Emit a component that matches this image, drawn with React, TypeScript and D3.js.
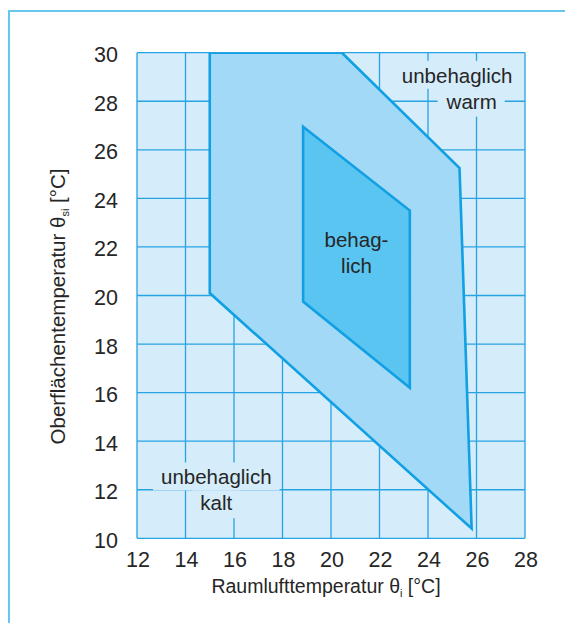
import React, { useLayoutEffect, useRef, useState } from "react";
import * as d3 from "d3";

// Comfort zones: room air temperature θi (x) vs. inner surface temperature θsi (y)
const xTicks = [12, 14, 16, 18, 20, 22, 24, 26, 28];
const yTicks = [10, 12, 14, 16, 18, 20, 22, 24, 26, 28, 30];

// "noch behaglich" zone outline (θi, θsi)
const outerZoneT = [15, 15, 25.8, 25.3, 20.45];
const outerZoneS = [30, 20.1, 10.4, 25.25, 30];

// "behaglich" zone outline (θi, θsi)
const innerZoneT = [18.85, 23.25, 23.25, 18.85];
const innerZoneS = [26.95, 23.5, 16.2, 19.75];

// Region labels, anchored in data units (θi per line, θsi of first baseline)
const regionLabels = [
  { key: "warm", lines: ["unbehaglich", "warm"], t: [25.2, 25.8], s: 28.76, knockout: true },
  { key: "kalt", lines: ["unbehaglich", "kalt"], t: [15.27, 15.27], s: 12.22, knockout: true },
  { key: "beh", lines: ["behag-", "lich"], t: [21.05, 21.05], s: 21.99, knockout: false },
];

const W = 565;
const H = 623;
const FONT = "'Liberation Sans', Arial, Helvetica, sans-serif";
const TEXT = "#262626";
const GRID = "#27a3e2";
const BG = "#d5ecfa";
const OUTER_FILL = "#a2d9f6";
const INNER_FILL = "#5ac5f1";
const EDGE = "#10a0e3";

type Box = { x: number; y: number; width: number; height: number };

export default function App() {
  const x = d3.scaleLinear().domain([12, 28]).range([137, 525]);
  const y = d3.scaleLinear().domain([10, 30]).range([538.3, 52.7]);
  const lineGap = 25.8;

  const line = d3
    .line<[number, number]>()
    .x((d) => x(d[0]))
    .y((d) => y(d[1]))
    .curve(d3.curveLinearClosed);

  const outerPts = outerZoneT.map((t, i) => [t, outerZoneS[i]] as [number, number]);
  const innerPts = innerZoneT.map((t, i) => [t, innerZoneS[i]] as [number, number]);

  const textRefs = useRef<Record<string, SVGTextElement | null>>({});
  const [boxes, setBoxes] = useState<Record<string, Box>>({});

  useLayoutEffect(() => {
    const next: Record<string, Box> = {};
    Object.entries(textRefs.current).forEach(([k, el]) => {
      if (el) {
        const b = el.getBBox();
        next[k] = { x: b.x, y: b.y, width: b.width, height: b.height };
      }
    });
    setBoxes(next);
  }, []);

  const [x0, x1] = x.range();
  const [yb, yt] = y.range();

  return (
    <svg
      width={W}
      height={H}
      style={{ position: "absolute", left: 0, top: 0, background: "#fff" }}
      fontFamily={FONT}
    >
      <defs>
        <clipPath id="plotClip">
          <rect x={x0} y={yt} width={x1 - x0} height={yb - yt} />
        </clipPath>
      </defs>

      {/* outer frame */}
      <rect x={9} y={11} width={700} height={800} fill="none" stroke="#66c6f1" strokeWidth={2} />

      {/* plot background */}
      <rect x={x0} y={yt} width={x1 - x0} height={yb - yt} fill={BG} />

      {/* grid */}
      <g stroke={GRID} strokeWidth={1.3}>
        {xTicks.map((t) => (
          <line key={"gx" + t} x1={x(t)} x2={x(t)} y1={yt} y2={yb} />
        ))}
        {yTicks.map((t) => (
          <line key={"gy" + t} x1={x0} x2={x1} y1={y(t)} y2={y(t)} />
        ))}
      </g>

      {/* text knockouts over grid */}
      {regionLabels
        .filter((r) => r.knockout)
        .map((r) =>
          r.lines.map((_, i) => {
            const b = boxes[r.key + i];
            if (!b) return null;
            const padX = 8;
            const base = y(r.s) + i * lineGap;
            const top = i === 0 ? base - 22 : base - lineGap + 6;
            const bottom = i === 0 ? base + 6 : base + 8;
            return (
              <rect
                key={"ko" + r.key + i}
                x={b.x - padX}
                y={top}
                width={b.width + padX * 2}
                height={bottom - top}
                fill={BG}
              />
            );
          })
        )}

      {/* zones */}
      <g clipPath="url(#plotClip)">
        <path d={line(outerPts) ?? ""} fill={OUTER_FILL} stroke={EDGE} strokeWidth={2.6} strokeLinejoin="miter" />
        <path d={line(innerPts) ?? ""} fill={INNER_FILL} stroke={EDGE} strokeWidth={2.6} strokeLinejoin="miter" />
      </g>

      {/* region labels */}
      {regionLabels.map((r) =>
        r.lines.map((txt, i) => (
          <text
            key={"lb" + r.key + i}
            ref={(el) => {
              textRefs.current[r.key + i] = el;
            }}
            x={x(r.t[i])}
            y={y(r.s) + i * lineGap}
            textAnchor="middle"
            fontSize={20.5}
            fill={TEXT}
          >
            {txt}
          </text>
        ))
      )}

      {/* y tick labels */}
      {yTicks.map((t) => (
        <text key={"yl" + t} x={118} y={y(t) + 9.5} textAnchor="end" fontSize={21.5} fill={TEXT}>
          {t}
        </text>
      ))}

      {/* x tick labels */}
      {xTicks.map((t) => (
        <text key={"xl" + t} x={x(t) + 1} y={566.5} textAnchor="middle" fontSize={21.5} fill={TEXT}>
          {t}
        </text>
      ))}

      {/* axis titles */}
      <text x={326} y={593} textAnchor="middle" fontSize={19.5} fill={TEXT}>
        Raumlufttemperatur θ
        <tspan fontSize={11} dy={4}>
          i
        </tspan>
        <tspan dy={-4}> [°C]</tspan>
      </text>
      <text
        transform={`translate(64.5, 306.5) rotate(-90)`}
        textAnchor="middle"
        fontSize={20.5}
        fill={TEXT}
      >
        Oberflächentemperatur θ
        <tspan fontSize={11} dy={4}>
          si
        </tspan>
        <tspan dy={-4}> [°C]</tspan>
      </text>
    </svg>
  );
}
